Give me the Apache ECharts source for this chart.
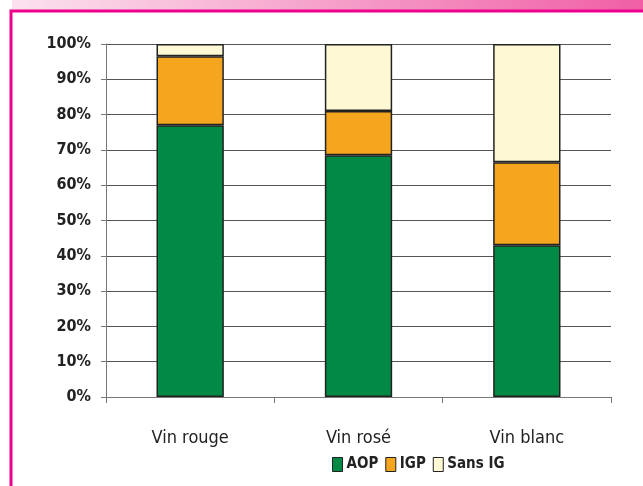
<!DOCTYPE html>
<html>
<head>
<meta charset="utf-8">
<script src="https://cdn.jsdelivr.net/npm/echarts@6/dist/echarts.min.js"></script>
<style>
  html, body { margin: 0; padding: 0; background: #fff; }
  #chart { width: 643px; height: 486px; }
</style>
</head>
<body>
<div id="chart"></div>
<script>
const categories = ['Vin rouge', 'Vin rosé', 'Vin blanc']
const seriesNames = ['AOP', 'IGP', 'Sans IG']
const aop = [77, 68.5, 43]
const igp = [19.5, 12.5, 23.5]
const sansIg = [3.5, 19, 33.5]
const colors = ['#008a45', '#f5a61e', '#fff8d5']

const font = '"DejaVu Sans Condensed", "DejaVu Sans", sans-serif'

const chart = echarts.init(document.getElementById('chart'))

const barStyle = {
  borderColor: '#222',
  borderWidth: 1.5,
}

chart.setOption({
  animation: false,
  color: colors,
  textStyle: { fontFamily: font },
  graphic: [
    {
      type: 'rect',
      shape: { x: 12, y: 0, width: 631, height: 10 },
      style: {
        fill: new echarts.graphic.LinearGradient(0, 0, 1, 0, [
          { offset: 0, color: '#fbe2ee' },
          { offset: 1, color: '#f05fa6' },
        ]),
      },
    },
    {
      type: 'polyline',
      shape: { points: [[11, 486], [11, 11], [643, 11]] },
      style: { stroke: '#ec008c', lineWidth: 3, fill: null },
    },
  ],
  grid: { left: 106, right: 32, top: 44, bottom: 89 },
  legend: {
    top: 452,
    left: 327,
    itemWidth: 10,
    itemHeight: 14,
    itemGap: 7,
    icon: 'rect',
    itemStyle: { borderColor: '#222', borderWidth: 1 },
    textStyle: { fontFamily: font, fontSize: 15, fontWeight: 'bold', color: '#222', padding: [0, 0, 0, -1] },
    data: seriesNames,
  },
  xAxis: {
    type: 'category',
    data: categories,
    axisLine: { lineStyle: { color: '#777', width: 1 } },
    axisTick: { show: true, length: 6, lineStyle: { color: '#777' } },
    axisLabel: { fontFamily: font, fontSize: 18, color: '#222', margin: 32 },
    splitLine: { show: false },
  },
  yAxis: {
    type: 'value',
    min: 0,
    max: 100,
    interval: 10,
    axisLine: { show: true, lineStyle: { color: '#777', width: 1 } },
    axisTick: { show: true, length: 5, lineStyle: { color: '#777' } },
    axisLabel: { fontFamily: font, fontSize: 16, fontWeight: 'bold', color: '#222', formatter: '{value}%', margin: 15 },
    splitLine: { show: true, lineStyle: { color: '#555', width: 1 } },
  },
  series: [
    { name: seriesNames[0], type: 'bar', stack: 'total', barWidth: '40%', data: aop, itemStyle: barStyle },
    { name: seriesNames[1], type: 'bar', stack: 'total', barWidth: '40%', data: igp, itemStyle: barStyle },
    { name: seriesNames[2], type: 'bar', stack: 'total', barWidth: '40%', data: sansIg, itemStyle: barStyle },
  ],
})
</script>
</body>
</html>
